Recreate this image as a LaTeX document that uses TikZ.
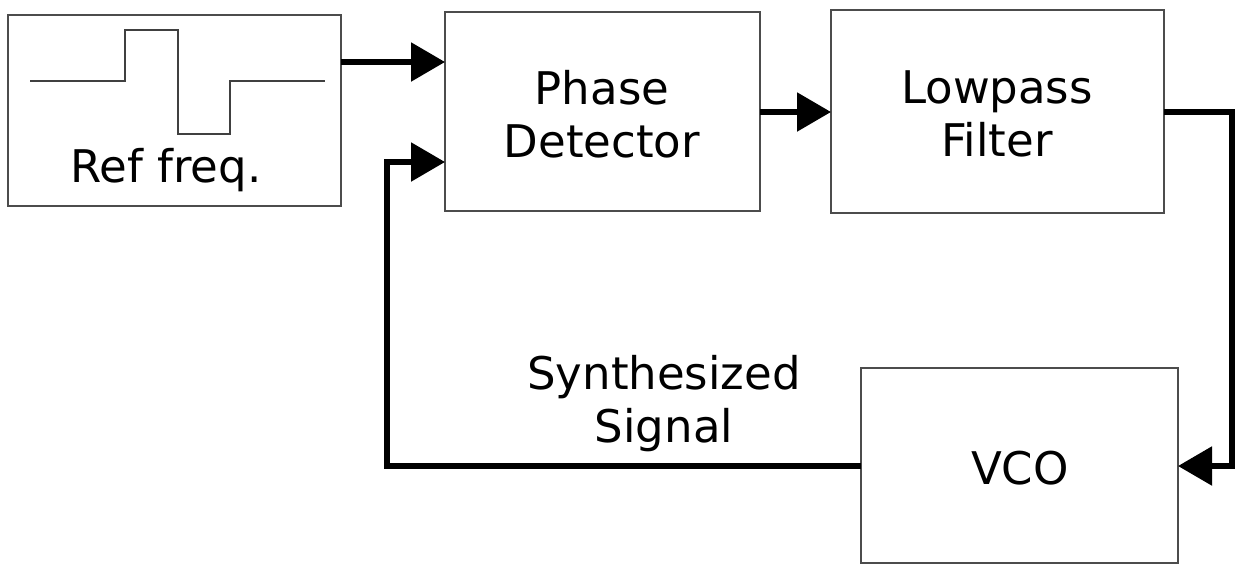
\documentclass[tikz,border=0pt]{standalone}
\usepackage{fontspec}
\setmainfont{DejaVu Sans}
\usetikzlibrary{arrows.meta}
\begin{document}
\begin{tikzpicture}[x=1pt,y=-1pt,
  blk/.style={draw=black!70,line width=2pt},
  conn/.style={line width=5.5pt,-{Triangle[length=34pt,width=38pt]}},
  lbl/.style={font=\fontsize{45}{53}\selectfont,align=center,inner sep=0pt}]
\useasboundingbox (0,0) rectangle (1239,566);
% boxes
\draw[blk] (8,15) rectangle (341,206);
\coordinate (refE) at (341,62);
\draw[blk] (445,12) rectangle (760,211);
\coordinate (pdA) at (445,62);
\coordinate (pdB) at (445,162);
\coordinate (pdE) at (760,112);
\draw[blk] (831,10) rectangle (1164,213);
\coordinate (lpW) at (831,112);
\coordinate (lpE) at (1164,112);
\draw[blk] (861,368) rectangle (1178,563);
\coordinate (vcoE) at (1178,466);
\coordinate (vcoW) at (861,466);
% waveform
\draw[black!75,line width=2pt] (30,81) -- (125,81) -- (125,30) -- (178,30) -- (178,134) -- (230,134) -- (230,81) -- (325,81);
% labels
\node[lbl] (reft) at (166,170) {Ref freq.};
\node[lbl] (pdt) at (602,114) {Phase\\Detector};
\node[lbl] (lpt) at (997,114) {Lowpass\\Filter};
\node[lbl] (vcot) at (1020,468) {VCO};
\node[lbl] (syn) at (664,404) {Synthesized\\Signal};
% connectors
\coordinate (c1) at (1232,112);
\coordinate (c2) at (1232,466);
\coordinate (c3) at (387,466);
\coordinate (c4) at (387,162);
\draw[conn] (refE) -- (pdA);
\draw[conn] (pdE) -- (lpW);
\draw[conn] (lpE) -- (c1) -- (c2) -- (vcoE);
\draw[conn] (vcoW) -- (c3) -- (c4) -- (pdB);
\end{tikzpicture}
\end{document}
